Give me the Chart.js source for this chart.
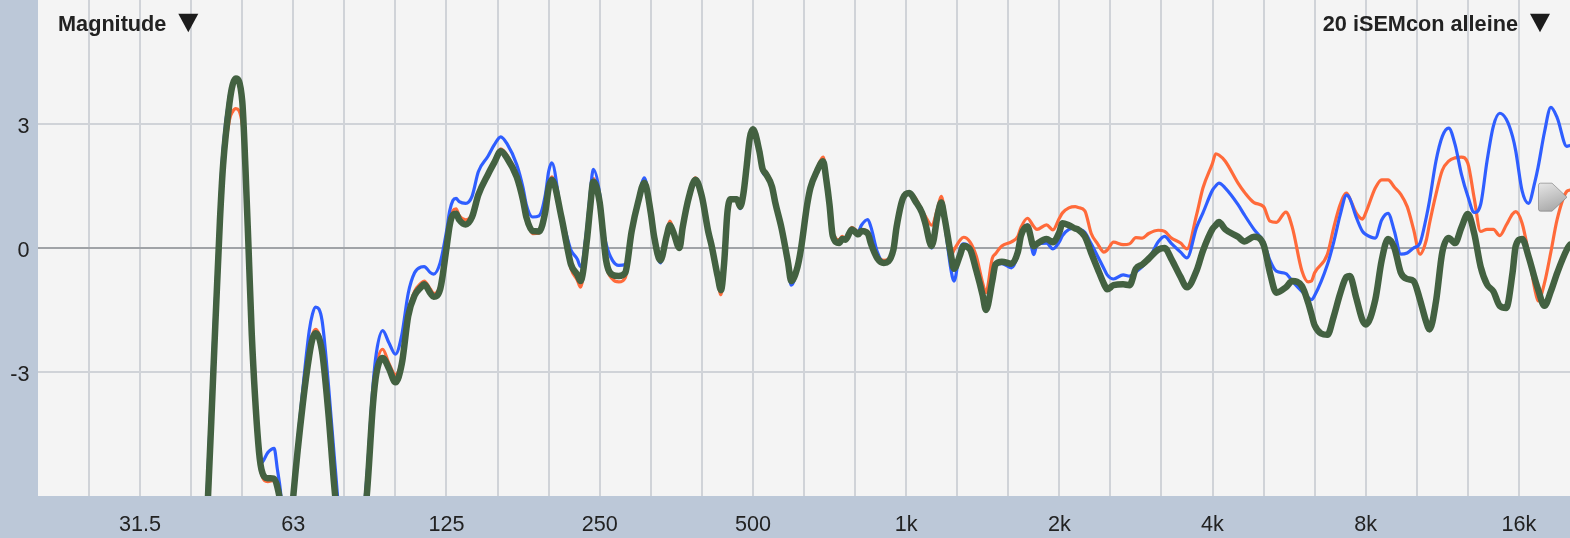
<!DOCTYPE html>
<html><head><meta charset="utf-8">
<script src="https://cdn.jsdelivr.net/npm/chart.js@4.4.1/dist/chart.umd.min.js"></script>
<style>html,body{margin:0;padding:0;background:#bcc8d8;overflow:hidden}#c{display:block}</style>
</head><body>
<canvas id="c" width="1570" height="538"></canvas>
<script>
// Frequencies (Hz) shared by all three curves
const freqs = [
41.12,42.32,43.56,44.84,45.49,46.82,47.50,48.19,49.61,50.33,51.06,51.80,53.32,54.10,55.68,57.31,58.15,58.99,60.72,
62.50,65.27,67.18,68.16,69.15,71.17,73.26,75.41,81.05,87.12,89.67,90.98,93.64,96.39,99.21,102.12,105.11,108.19,111.36,112.98,116.29,117.98,121.44,
125.0,126.82,128.66,130.53,132.43,136.31,140.31,144.42,150.81,155.23,159.78,164.46,171.74,176.78,179.35,184.60,190.01,195.58,198.43,201.31,210.22,216.38,219.53,225.96,229.25,235.97,239.40,242.88,
250.0,253.64,257.33,264.87,272.63,280.62,288.84,297.30,306.01,314.98,319.56,328.93,338.56,343.49,348.48,358.70,363.91,374.58,385.55,396.85,408.48,414.42,426.56,432.77,439.06,445.45,451.93,465.17,471.94,478.80,485.77,492.83,
500.0,514.65,522.14,529.73,545.25,553.19,569.39,586.08,594.60,612.03,620.93,639.12,648.42,667.42,686.98,696.97,707.11,717.39,738.41,749.15,760.05,782.32,805.25,816.96,840.90,853.13,878.13,903.86,943.87,957.60,985.66,
1014.5,1044.3,1074.9,1090.5,1122.5,1155.4,1172.2,1189.2,1224.1,1241.9,1278.2,1296.8,1334.8,1374.0,1414.2,1434.8,1476.8,1498.3,1542.2,1610.5,1657.7,1681.8,1731.1,1781.8,1807.7,1887.7,1943.1,
2000,2029.1,2088.5,2149.7,2181.0,2244.9,2310.7,2378.4,2448.1,2483.7,2556.5,2669.7,2747.9,2828.4,2911.3,2996.6,3129.3,3221.0,3315.4,3462.1,3563.6,3721.4,3830.4,
4000,4058.2,4117.2,4237.9,4489.8,4621.4,4826.0,5039.7,5187.4,5339.4,5575.8,5739.1,5993.2,6168.8,6258.6,6349.6,6727.2,6924.3,7127.2,7336.0,7442.7,7660.8,7885.3,
8000,8354.2,8599.0,8851.0,9110.3,9377.3,9652.0,9934.9,10226,10526,10679,10992,11314,11645,11987,12338,12699,13071,13454,13849,14254,14672,15102,15545,15771,16233,16708,17198,17448,17959,18486,19027,19870,20159
];

// Magnitude (dB) – dark green curve
const greenDb = [
-8.8,-6.5,-2.9,0.65,2.0,3.5,3.95,4.1,3.55,1.95,-0.05,-2.1,-4.7,-5.35,-5.57,-5.58,-5.78,-6.2,-8.0,
-6.0,-3.75,-2.6,-2.2,-2.06,-2.5,-4.0,-5.9,-9.0,-6.0,-3.75,-3.05,-2.66,-2.92,-3.25,-2.8,-1.65,-1.15,-0.95,-0.88,-1.1,-1.18,-1.0,
0.0,0.55,0.8,0.83,0.68,0.57,0.75,1.29,1.78,2.07,2.34,2.17,1.72,1.15,0.75,0.41,0.4,0.9,1.45,1.65,0.75,-0.05,-0.4,-0.65,-0.8,0.2,0.97,1.6,
1.1,0.4,-0.3,-0.65,-0.68,-0.6,0.4,1.1,1.58,0.85,0.3,-0.3,0.3,0.55,0.4,0.0,0.5,1.25,1.65,1.25,0.4,0.08,-0.7,-1.02,-0.35,0.85,1.18,1.18,1.0,1.3,1.95,2.65,
2.87,2.35,1.92,1.8,1.48,1.1,0.47,-0.35,-0.8,-0.45,-0.05,1.05,1.45,1.85,2.1,1.65,1.05,0.3,0.12,0.22,0.2,0.45,0.33,0.41,0.35,0.1,-0.25,-0.36,-0.05,0.5,1.2,
1.33,1.12,0.85,0.6,0.05,0.85,1.1,0.75,-0.15,-0.5,-0.15,0.05,-0.03,-0.55,-1.15,-1.5,-0.8,-0.4,-0.33,-0.38,-0.1,0.3,0.52,0.04,0.1,0.22,0.14,
0.38,0.6,0.55,0.47,0.44,0.28,-0.12,-0.5,-0.87,-1.0,-0.9,-0.88,-0.9,-0.5,-0.4,-0.26,-0.04,0.0,-0.25,-0.7,-0.95,-0.55,-0.07,
0.46,0.55,0.63,0.45,0.27,0.16,0.27,0.08,-0.6,-1.08,-0.95,-0.8,-0.92,-1.33,-1.6,-1.87,-2.1,-1.65,-1.1,-0.7,-0.68,-1.2,-1.75,
-1.85,-1.25,-0.3,0.22,0.0,-0.6,-0.75,-0.8,-1.25,-1.8,-1.97,-1.3,-0.1,0.24,0.12,0.5,0.82,0.35,-0.45,-0.88,-1.05,-1.4,-1.45,-0.6,0.05,0.22,-0.2,-0.75,-1.0,-1.4,-1.05,-0.6,-0.04,0.08
];

// Magnitude (dB) – blue curve
const blueDb = [
-8.5,-5.9,-2.3,1.1,2.4,3.7,4.0,4.1,3.6,2.0,0.0,-2.0,-4.6,-5.2,-4.95,-4.85,-5.35,-5.9,-8.0,
-5.9,-3.4,-2.0,-1.6,-1.43,-1.75,-3.3,-5.2,-9.0,-5.6,-3.3,-2.55,-2.0,-2.3,-2.57,-2.1,-1.1,-0.6,-0.46,-0.45,-0.6,-0.63,-0.36,
0.4,0.9,1.15,1.2,1.12,1.08,1.25,1.85,2.22,2.5,2.69,2.52,2.02,1.45,1.05,0.75,0.78,1.3,1.85,2.06,0.8,0.2,-0.05,-0.27,-0.45,0.5,1.3,1.9,
1.3,0.5,0.1,-0.3,-0.42,-0.4,0.5,1.15,1.7,0.85,0.25,-0.36,0.3,0.55,0.4,0.0,0.5,1.25,1.65,1.25,0.4,0.05,-0.7,-1.0,-0.35,0.8,1.15,1.15,0.95,1.25,1.9,2.6,
2.85,2.3,1.85,1.75,1.45,1.05,0.4,-0.45,-0.9,-0.5,-0.1,1.0,1.4,1.8,2.05,1.6,1.0,0.3,0.12,0.22,0.2,0.45,0.4,0.55,0.69,0.5,-0.1,-0.35,-0.1,0.45,1.2,
1.33,1.1,0.85,0.55,0.0,0.8,1.1,0.65,-0.5,-0.8,0.0,0.1,0.0,-0.5,-1.1,-1.4,-0.7,-0.4,-0.38,-0.48,-0.15,0.3,0.56,-0.16,0.08,0.12,-0.02,
0.15,0.3,0.45,0.48,0.46,0.38,0.1,-0.2,-0.5,-0.65,-0.75,-0.65,-0.68,-0.58,-0.45,-0.28,0.15,0.28,0.12,-0.1,-0.24,0.5,0.85,
1.4,1.5,1.57,1.45,1.05,0.8,0.45,0.15,-0.3,-0.56,-0.62,-0.8,-1.05,-1.2,-1.25,-1.15,-0.4,0.15,0.8,1.28,1.2,0.75,0.4,
0.33,0.24,0.68,0.84,0.4,-0.15,-0.12,0.0,0.12,0.75,1.15,2.1,2.7,2.9,2.5,1.78,1.25,0.86,1.05,2.1,2.95,3.26,3.12,2.7,2.35,1.38,1.08,1.6,1.95,2.8,3.4,3.15,2.46,2.48
];

// Magnitude (dB) – orange curve
const orangeDb = [
-8.8,-6.3,-3.0,0.6,1.9,3.1,3.3,3.37,3.0,1.8,-0.1,-2.2,-4.8,-5.45,-5.65,-5.62,-5.82,-6.2,-8.0,
-6.0,-3.7,-2.5,-2.1,-1.97,-2.4,-3.9,-5.85,-9.0,-6.0,-3.7,-2.9,-2.45,-2.8,-3.06,-2.7,-1.55,-1.05,-0.85,-0.8,-1.0,-1.1,-0.9,
0.1,0.6,0.9,0.95,0.78,0.68,0.82,1.35,1.83,2.12,2.4,2.24,1.78,1.2,0.75,0.35,0.36,0.92,1.5,1.72,0.78,-0.12,-0.5,-0.78,-0.95,0.15,0.95,1.68,
1.15,0.35,-0.4,-0.75,-0.82,-0.72,0.3,1.05,1.62,0.88,0.3,-0.25,0.38,0.65,0.45,0.02,0.5,1.28,1.7,1.25,0.35,0.0,-0.8,-1.13,-0.4,0.85,1.18,1.2,1.02,1.32,1.98,2.65,
2.8,2.3,1.95,1.85,1.55,1.15,0.5,-0.3,-0.75,-0.42,-0.05,1.05,1.5,1.9,2.2,1.75,1.1,0.4,0.2,0.28,0.22,0.5,0.4,0.45,0.4,0.1,-0.2,-0.3,-0.05,0.5,1.2,
1.35,1.2,0.9,0.77,0.55,1.0,1.25,0.9,-0.2,-0.05,0.2,0.26,0.15,-0.2,-0.85,-1.08,-0.25,-0.14,0.05,0.15,0.28,0.5,0.72,0.52,0.45,0.56,0.44,
0.72,0.85,0.97,1.0,0.98,0.9,0.35,0.1,-0.1,-0.05,0.14,0.08,0.1,0.25,0.24,0.35,0.43,0.4,0.25,0.12,-0.02,0.8,1.45,
2.05,2.28,2.25,2.1,1.57,1.35,1.1,1.0,0.65,0.62,0.87,0.5,-0.55,-0.82,-0.8,-0.6,-0.15,0.5,1.05,1.33,1.2,0.85,0.7,
0.85,1.45,1.65,1.65,1.47,1.3,1.0,0.45,-0.15,0.2,0.6,1.3,1.88,2.1,2.18,2.2,2.05,1.2,0.4,0.45,0.45,0.3,0.55,0.82,0.88,0.6,-0.12,-1.0,-1.28,-0.85,-0.1,0.7,1.37,1.4
];

const xTickFreqs = [31.25, 62.5, 125, 250, 500, 1000, 2000, 4000, 8000, 16000];
const xTickLabels = ['31.5', '63', '125', '250', '500', '1k', '2k', '4k', '8k', '16k'];
const yTicks = [-3, 0, 3];
const yTickLabels = ['-3', '0', '3'];
const titleLeft = 'Magnitude';
const titleRight = '20 iSEMcon alleine';
const markerDb = 1.23;

// 1/3-octave grid frequencies
const gridFreqs = [];
for (let n = -16; n <= 12; n++) gridFreqs.push(1000 * Math.pow(2, n / 3));

const toPts = arr => freqs.map((f, i) => ({ x: f, y: arr[i] }));

const FONT = '"Liberation Sans", Arial, Helvetica, sans-serif';

function tri(ctx, x, y) {
  ctx.beginPath();
  ctx.moveTo(x, y);
  ctx.lineTo(x + 20, y);
  ctx.lineTo(x + 10, y + 18.5);
  ctx.closePath();
  ctx.fill();
}

const deco = {
  id: 'deco',
  beforeDraw(chart) {
    const { ctx, chartArea: a } = chart;
    ctx.save();
    ctx.fillStyle = '#bcc8d8';
    ctx.fillRect(0, 0, chart.width, chart.height);
    ctx.fillStyle = '#f4f4f4';
    ctx.fillRect(a.left, a.top, a.right - a.left, a.bottom - a.top);
    ctx.restore();
  },
  afterDraw(chart) {
    const { ctx, scales: { x, y } } = chart;
    ctx.save();
    ctx.fillStyle = '#222222';
    ctx.font = '21.6px ' + FONT;
    ctx.textBaseline = 'alphabetic';
    ctx.textAlign = 'center';
    xTickFreqs.forEach((f, i) => ctx.fillText(xTickLabels[i], x.getPixelForValue(f), 531));
    ctx.textAlign = 'right';
    yTicks.forEach((v, i) => ctx.fillText(yTickLabels[i], 29.5, y.getPixelForValue(v) + 9.3));
    ctx.font = 'bold 21.7px ' + FONT;
    ctx.textAlign = 'left';
    ctx.fillText(titleLeft, 58, 31);
    ctx.textAlign = 'right';
    ctx.fillText(titleRight, 1518, 31);
    ctx.fillStyle = '#1c1c1c';
    tri(ctx, 178.3, 13.8);
    tri(ctx, 1530, 13.8);

    // right-side level marker
    const my = y.getPixelForValue(markerDb);
    const l = 1538.5, r = 1567, h = 14;
    const g = ctx.createLinearGradient(l, my - h, l + 10, my + h);
    g.addColorStop(0, '#e6e6e6');
    g.addColorStop(1, '#acacac');
    ctx.beginPath();
    ctx.moveTo(l + 2, my - h);
    ctx.lineTo(1552, my - h);
    ctx.lineTo(r, my);
    ctx.lineTo(1552, my + h);
    ctx.lineTo(l + 2, my + h);
    ctx.quadraticCurveTo(l, my + h, l, my + h - 2);
    ctx.lineTo(l, my - h + 2);
    ctx.quadraticCurveTo(l, my - h, l + 2, my - h);
    ctx.closePath();
    ctx.fillStyle = g;
    ctx.fill();
    ctx.strokeStyle = 'rgba(120,120,120,0.6)';
    ctx.lineWidth = 1;
    ctx.stroke();
    ctx.restore();
  }
};

new Chart(document.getElementById('c'), {
  type: 'line',
  data: {
    datasets: [
      { label: 'green', data: toPts(greenDb), borderColor: '#436141', borderWidth: 6.5, order: 0, clip: 0 },
      { label: 'blue', data: toPts(blueDb), borderColor: '#2f5eff', borderWidth: 3.2, order: 1, clip: 0 },
      { label: 'orange', data: toPts(orangeDb), borderColor: '#ff6a3a', borderWidth: 3.2, order: 2, clip: 0 }
    ]
  },
  options: {
    responsive: false,
    animation: false,
    devicePixelRatio: 1,
    layout: { padding: 0 },
    elements: {
      point: { radius: 0 },
      line: { cubicInterpolationMode: 'monotone', borderJoinStyle: 'round', borderCapStyle: 'round', fill: false }
    },
    plugins: { legend: { display: false }, tooltip: { enabled: false }, title: { display: false } },
    scales: {
      x: {
        type: 'logarithmic', min: 19.69, max: 20160,
        afterBuildTicks: s => { s.ticks = gridFreqs.map(v => ({ value: v })); },
        afterFit: s => { s.height = 42; },
        ticks: { display: false },
        grid: { color: '#d0d3d8', lineWidth: 2, drawTicks: false },
        border: { display: false }
      },
      y: {
        type: 'linear', min: -6, max: 6,
        afterBuildTicks: s => { s.ticks = yTicks.map(v => ({ value: v })); },
        afterFit: s => { s.width = 38; },
        ticks: { display: false },
        grid: {
          color: c => (c.tick && c.tick.value === 0) ? '#a0a3a7' : '#d0d3d8',
          lineWidth: 2,
          drawTicks: false
        },
        border: { display: false }
      }
    }
  },
  plugins: [deco]
});
</script>
</body></html>
